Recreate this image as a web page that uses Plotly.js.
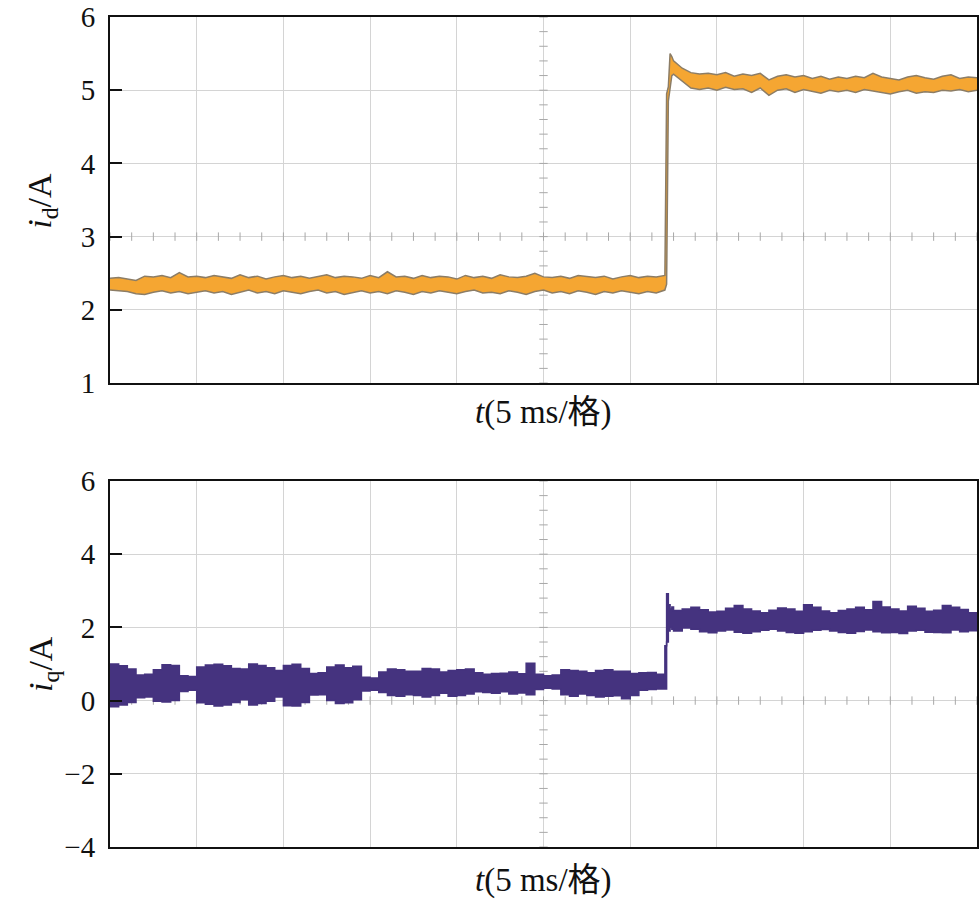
<!DOCTYPE html>
<html>
<head>
<meta charset="utf-8">
<script src="https://cdn.plot.ly/plotly-3.0.1.min.js"></script>
<style>
    html, body { margin: 0; padding: 0; background: #ffffff; }
    #chart { width: 979px; height: 902px; }
</style>
</head>
<body>
<div id="chart"></div>
<script>
// time base in ms (5 ms per division), extra samples around the step
const TIME = [
    0, 0.5, 1, 1.5, 2, 2.5, 3, 3.5, 4, 4.5,
    5, 5.5, 6, 6.5, 7, 7.5, 8, 8.5, 9, 9.5,
    10, 10.5, 11, 11.5, 12, 12.5, 13, 13.5, 14, 14.5,
    15, 15.5, 16, 16.5, 17, 17.5, 18, 18.5, 19, 19.5,
    20, 20.5, 21, 21.5, 22, 22.5, 23, 23.5, 24, 24.5,
    25, 25.5, 26, 26.5, 27, 27.5, 28, 28.5, 29, 29.5,
    30, 30.5, 31, 31.5, 32,
    32.1, 32.2, 32.3, 32.4,
    32.5, 33, 33.5, 34, 34.5, 35, 35.5, 36, 36.5, 37,
    37.5, 38, 38.5, 39, 39.5, 40, 40.5, 41, 41.5, 42,
    42.5, 43, 43.5, 44, 44.5, 45, 45.5, 46, 46.5, 47,
    47.5, 48, 48.5, 49, 49.5, 50
];

// i_d envelope (A)
const ID_UPPER = [
    2.43, 2.44, 2.42, 2.40, 2.46, 2.45, 2.47, 2.44, 2.51, 2.45,
    2.46, 2.44, 2.47, 2.45, 2.43, 2.48, 2.44, 2.46, 2.42, 2.45,
    2.47, 2.44, 2.46, 2.43, 2.45, 2.48, 2.44, 2.46, 2.45, 2.43,
    2.47, 2.44, 2.52, 2.45, 2.46, 2.43, 2.47, 2.44, 2.46, 2.45,
    2.42, 2.47, 2.44, 2.46, 2.43, 2.48, 2.45, 2.44, 2.46, 2.50,
    2.45, 2.44, 2.46, 2.43, 2.47, 2.45, 2.44, 2.46, 2.42, 2.45,
    2.47, 2.44, 2.46, 2.45, 2.47,
    4.95, 5.05, 5.50, 5.46,
    5.40, 5.30, 5.24, 5.22, 5.23, 5.21, 5.24, 5.19, 5.22, 5.20,
    5.23, 5.14, 5.19, 5.21, 5.18, 5.20, 5.16, 5.19, 5.15, 5.18,
    5.16, 5.19, 5.17, 5.23, 5.18, 5.16, 5.14, 5.18, 5.20, 5.17,
    5.15, 5.19, 5.21, 5.16, 5.18, 5.17
];
const ID_LOWER = [
    2.27, 2.26, 2.25, 2.22, 2.21, 2.24, 2.26, 2.23, 2.25, 2.22,
    2.24, 2.26, 2.23, 2.25, 2.21, 2.24, 2.27, 2.23, 2.25, 2.22,
    2.26, 2.24, 2.22, 2.25, 2.27, 2.23, 2.25, 2.21, 2.24, 2.26,
    2.23, 2.25, 2.22, 2.26, 2.24, 2.21, 2.25, 2.23, 2.26, 2.24,
    2.22, 2.25, 2.27, 2.23, 2.24, 2.22, 2.26, 2.24, 2.21, 2.25,
    2.27, 2.23, 2.25, 2.22, 2.26, 2.24, 2.21, 2.25, 2.23, 2.26,
    2.24, 2.22, 2.25, 2.23, 2.27,
    2.35, 4.85, 5.00, 5.20,
    5.22, 5.12, 5.03, 5.01, 5.03, 5.00, 5.04, 5.01, 5.02, 4.97,
    5.03, 4.93, 5.00, 5.02, 4.97, 5.01, 4.99, 4.96, 5.00, 4.98,
    5.00, 4.97, 5.01, 4.99, 4.97, 4.95, 4.98, 5.00, 4.96, 4.98,
    4.97, 5.00, 4.99, 5.01, 4.98, 5.00
];

// i_q envelope (A)
const IQ_UPPER = [
    1.00, 0.95, 0.86, 0.70, 0.72, 0.84, 0.98, 0.96, 0.68, 0.66,
    0.92, 0.97, 0.99, 0.95, 0.88, 0.86, 1.00, 0.96, 0.90, 0.82,
    0.96, 0.99, 0.88, 0.74, 0.76, 0.92, 0.97, 0.90, 0.94, 0.64,
    0.62, 0.78, 0.86, 0.84, 0.80, 0.80, 0.88, 0.86, 0.78, 0.82,
    0.84, 0.86, 0.76, 0.72, 0.74, 0.75, 0.78, 0.73, 1.02, 0.72,
    0.68, 0.70, 0.84, 0.82, 0.80, 0.76, 0.82, 0.84, 0.80, 0.80,
    0.74, 0.76, 0.77, 0.72, 1.50,
    2.92, 2.62, 2.50, 2.56,
    2.46, 2.50, 2.55, 2.48, 2.42, 2.44, 2.52, 2.60, 2.50, 2.45,
    2.40, 2.47, 2.53, 2.50, 2.44, 2.62, 2.55, 2.45, 2.40, 2.46,
    2.50, 2.55, 2.48, 2.71, 2.56, 2.50, 2.45, 2.58, 2.52, 2.44,
    2.47, 2.60, 2.55, 2.49, 2.40, 2.38
];
const IQ_LOWER = [
    -0.17, -0.12, -0.05, 0.08, 0.10, -0.02, -0.04, 0.00, 0.25, 0.28,
    -0.06, -0.10, -0.15, -0.12, -0.05, 0.02, -0.12, -0.08, -0.02, 0.10,
    -0.14, -0.15, -0.05, 0.15, 0.16, 0.00, -0.08, -0.06, 0.02, 0.26,
    0.28, 0.22, 0.14, 0.12, 0.16, 0.14, 0.10, 0.14, 0.20, 0.12,
    0.14, 0.18, 0.24, 0.22, 0.20, 0.24, 0.18, 0.21, 0.16, 0.30,
    0.34, 0.32, 0.16, 0.12, 0.18, 0.14, 0.10, 0.12, 0.13, 0.05,
    0.14, 0.28, 0.30, 0.32, 0.32,
    1.60, 1.90, 2.00, 1.95,
    1.90, 1.98, 1.95, 1.88, 1.85, 1.90, 1.93, 1.87, 1.84, 1.88,
    1.92, 1.95, 1.90, 1.86, 1.84, 1.88, 1.92, 1.94, 1.90, 1.86,
    1.84, 1.89, 1.93, 1.88, 1.85, 1.86, 1.83, 1.90, 1.92, 1.87,
    1.86, 1.85, 1.93, 1.88, 1.91, 1.90
];

const ID_TICKS = [1, 2, 3, 4, 5, 6];
const IQ_TICKS = [-4, -2, 0, 2, 4, 6];
const X_LABEL = "<i>t</i>(5 ms/格)";

const DIV = document.querySelector("#chart");
const FONT = "Liberation Serif, Times New Roman, Noto Sans CJK SC, serif";
const ORANGE = "#f5a632";
const ORANGE_EDGE = "#8c7d66";
const PURPLE = "#45337f";
const GRID = "#d4d4d4";

// oscilloscope centre graticule: small ticks on a horizontal and the vertical centre line
function graticule(yLine, yMin, yMax, yStep, xa, ya) {
    let hx = [], hy = [], vx = [], vy = [];
    for (let x = 0; x <= 50.001; x += 1.25) { hx.push(x); hy.push(yLine); }
    for (let y = yMin; y <= yMax + 0.001; y += yStep) { vx.push(25); vy.push(y); }
    let style = { color: "#a8a8a8", size: 6, line: { color: "#a8a8a8", width: 1 } };
    return [
        { x: hx, y: hy, xaxis: xa, yaxis: ya, mode: "markers", hoverinfo: "skip",
          marker: Object.assign({ symbol: "line-ns" }, style) },
        { x: vx, y: vy, xaxis: xa, yaxis: ya, mode: "markers", hoverinfo: "skip",
          marker: Object.assign({ symbol: "line-ew" }, style) }
    ];
}

let data = [
    ...graticule(3, 1, 6, 0.2, "x", "y"),
    ...graticule(0, -4, 6, 0.4, "x2", "y2"),
    { x: TIME, y: ID_LOWER, xaxis: "x", yaxis: "y", mode: "lines",
      line: { color: ORANGE_EDGE, width: 1.5 } },
    { x: TIME, y: ID_UPPER, xaxis: "x", yaxis: "y", mode: "lines", fill: "tonexty",
      fillcolor: ORANGE, line: { color: ORANGE_EDGE, width: 1.5 } },
    { x: TIME, y: IQ_LOWER, xaxis: "x2", yaxis: "y2", mode: "lines",
      line: { color: PURPLE, width: 1.5, shape: "hv" } },
    { x: TIME, y: IQ_UPPER, xaxis: "x2", yaxis: "y2", mode: "lines", fill: "tonexty",
      fillcolor: PURPLE, line: { color: PURPLE, width: 1.5, shape: "hv" } }
];

let xCommon = {
    range: [0, 50], dtick: 5, tick0: 0,
    showticklabels: false, ticks: "",
    showgrid: true, gridcolor: GRID, gridwidth: 1,
    showline: true, linecolor: "#111111", linewidth: 2, mirror: true,
    zeroline: false, fixedrange: true
};
let yCommon = {
    ticks: "inside", ticklen: 12, tickwidth: 2, tickcolor: "#111111",
    tickfont: { family: FONT, size: 29, color: "#111111" },
    ticklabelstandoff: 7,
    showgrid: true, gridcolor: GRID, gridwidth: 1,
    showline: true, linecolor: "#111111", linewidth: 2, mirror: true,
    zeroline: false, fixedrange: true
};

let layout = {
    width: 979, height: 902,
    margin: { l: 110, r: 2, t: 17, b: 55 },
    paper_bgcolor: "#ffffff", plot_bgcolor: "#ffffff",
    showlegend: false, hovermode: false,
    xaxis: Object.assign({}, xCommon, { anchor: "y" }),
    xaxis2: Object.assign({}, xCommon, { anchor: "y2" }),
    yaxis: Object.assign({}, yCommon, { domain: [0.559, 1], range: [1, 6], tickvals: ID_TICKS, anchor: "x" }),
    yaxis2: Object.assign({}, yCommon, { domain: [0, 0.441], range: [-4, 6], tickvals: IQ_TICKS, anchor: "x2" }),
    annotations: [
        { text: X_LABEL, xref: "paper", yref: "paper", x: 0.5, y: 0.524, xanchor: "center", yanchor: "middle",
          showarrow: false, font: { family: FONT, size: 33, color: "#111111" } },
        { text: X_LABEL, xref: "paper", yref: "paper", x: 0.5, y: -0.040, xanchor: "center", yanchor: "middle",
          showarrow: false, font: { family: FONT, size: 33, color: "#111111" } },
        { text: "<i>i</i><sub>d</sub>/A", xref: "paper", yref: "paper", x: -0.078, y: 0.779, xanchor: "center", yanchor: "middle",
          textangle: -90, showarrow: false, font: { family: FONT, size: 34, color: "#111111" } },
        { text: "<i>i</i><sub>q</sub>/A", xref: "paper", yref: "paper", x: -0.078, y: 0.221, xanchor: "center", yanchor: "middle",
          textangle: -90, showarrow: false, font: { family: FONT, size: 34, color: "#111111" } }
    ]
};

Plotly.newPlot(DIV, data, layout, { staticPlot: true });
</script>
</body>
</html>
